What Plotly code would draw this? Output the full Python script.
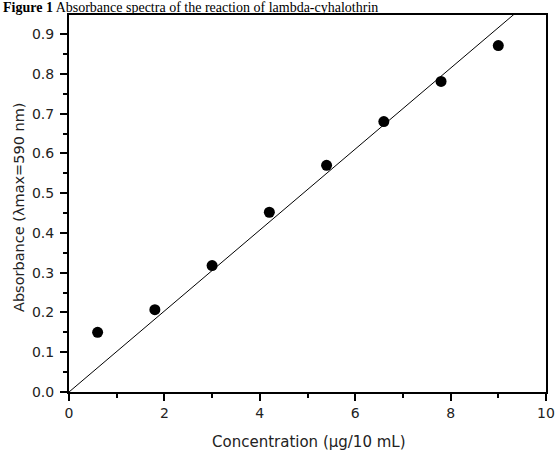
import plotly.graph_objects as go

# Data
concentration = [0.6, 1.8, 3.0, 4.2, 5.4, 6.6, 7.8, 9.0]
absorbance = [0.150, 0.207, 0.318, 0.452, 0.570, 0.680, 0.781, 0.871]

# Calibration line (through origin)
fit_slope = 0.1018
fit_intercept = 0.0
fit_x = [0, 10]
fit_y = [fit_intercept + fit_slope * v for v in fit_x]

x_ticks = [0, 2, 4, 6, 8, 10]
y_ticks = [0.0, 0.1, 0.2, 0.3, 0.4, 0.5, 0.6, 0.7, 0.8, 0.9]
y_ticklabels = ["0.0", "0.1", "0.2", "0.3", "0.4", "0.5", "0.6", "0.7", "0.8", "0.9"]

x_title = "Concentration (μg/10 mL)"
y_title = "Absorbance (λmax=590 nm)"
title_text = "<b>Figure 1</b> Absorbance spectra of the reaction of lambda-cyhalothrin"

fig = go.Figure()
fig.add_trace(go.Scatter(x=fit_x, y=fit_y, mode="lines",
                         line=dict(color="black", width=1), showlegend=False))
fig.add_trace(go.Scatter(x=concentration, y=absorbance, mode="markers",
                         marker=dict(color="black", size=11), showlegend=False,
                         cliponaxis=False))

axis_font = dict(family="DejaVu Sans", size=14, color="#222")

L, R, T, B = 69, 9, 15, 61
PW, PH = 555 - L - R, 453 - T - B


def px_x(p):
    return (p - L) / PW


def px_y(p):
    return (453 - B - p) / PH


fig.update_layout(
    template="none",
    width=555, height=453,
    margin=dict(l=L, r=R, t=T, b=B, autoexpand=False),
    plot_bgcolor="white", paper_bgcolor="white",
    font=dict(family="DejaVu Sans", color="black"),
    xaxis=dict(range=[0, 10], tickvals=x_ticks, ticktext=[str(v) for v in x_ticks],
               automargin=False,
               ticks="outside", ticklen=7, tickwidth=2, tickcolor="black",
               showline=True, linewidth=2, linecolor="black", mirror=True,
               showgrid=False, zeroline=False, tickfont=axis_font,
               minor=dict(dtick=1, ticks="outside", ticklen=4, tickwidth=1.5, tickcolor="black")),
    yaxis=dict(range=[0, 0.948], tickvals=y_ticks, ticktext=y_ticklabels,
               automargin=False, ticklabelstandoff=3,
               ticks="outside", ticklen=7, tickwidth=2, tickcolor="black",
               showline=True, linewidth=2, linecolor="black", mirror=True,
               showgrid=False, zeroline=False, tickfont=axis_font,
               minor=dict(tick0=0, dtick=0.05, ticks="outside", ticklen=4, tickwidth=1.5, tickcolor="black")),
    annotations=[
        dict(text=title_text, xref="paper", yref="paper",
             x=px_x(1), y=px_y(7), xanchor="left", yanchor="middle", showarrow=False,
             font=dict(family="Liberation Serif, Times New Roman", size=14, color="black")),
        dict(text=x_title, xref="paper", yref="paper",
             x=px_x(309), y=px_y(442), xanchor="center", yanchor="middle", showarrow=False,
             font=dict(family="DejaVu Sans", size=15, color="#222")),
        dict(text=y_title, xref="paper", yref="paper", textangle=-90,
             x=px_x(19), y=px_y(207), xanchor="center", yanchor="middle", showarrow=False,
             font=dict(family="DejaVu Sans", size=14.5, color="#222")),
    ],
)

fig.write_html("out.html", config={"displayModeBar": False},
               post_script="document.body.style.margin='0';document.body.style.padding='0';")
